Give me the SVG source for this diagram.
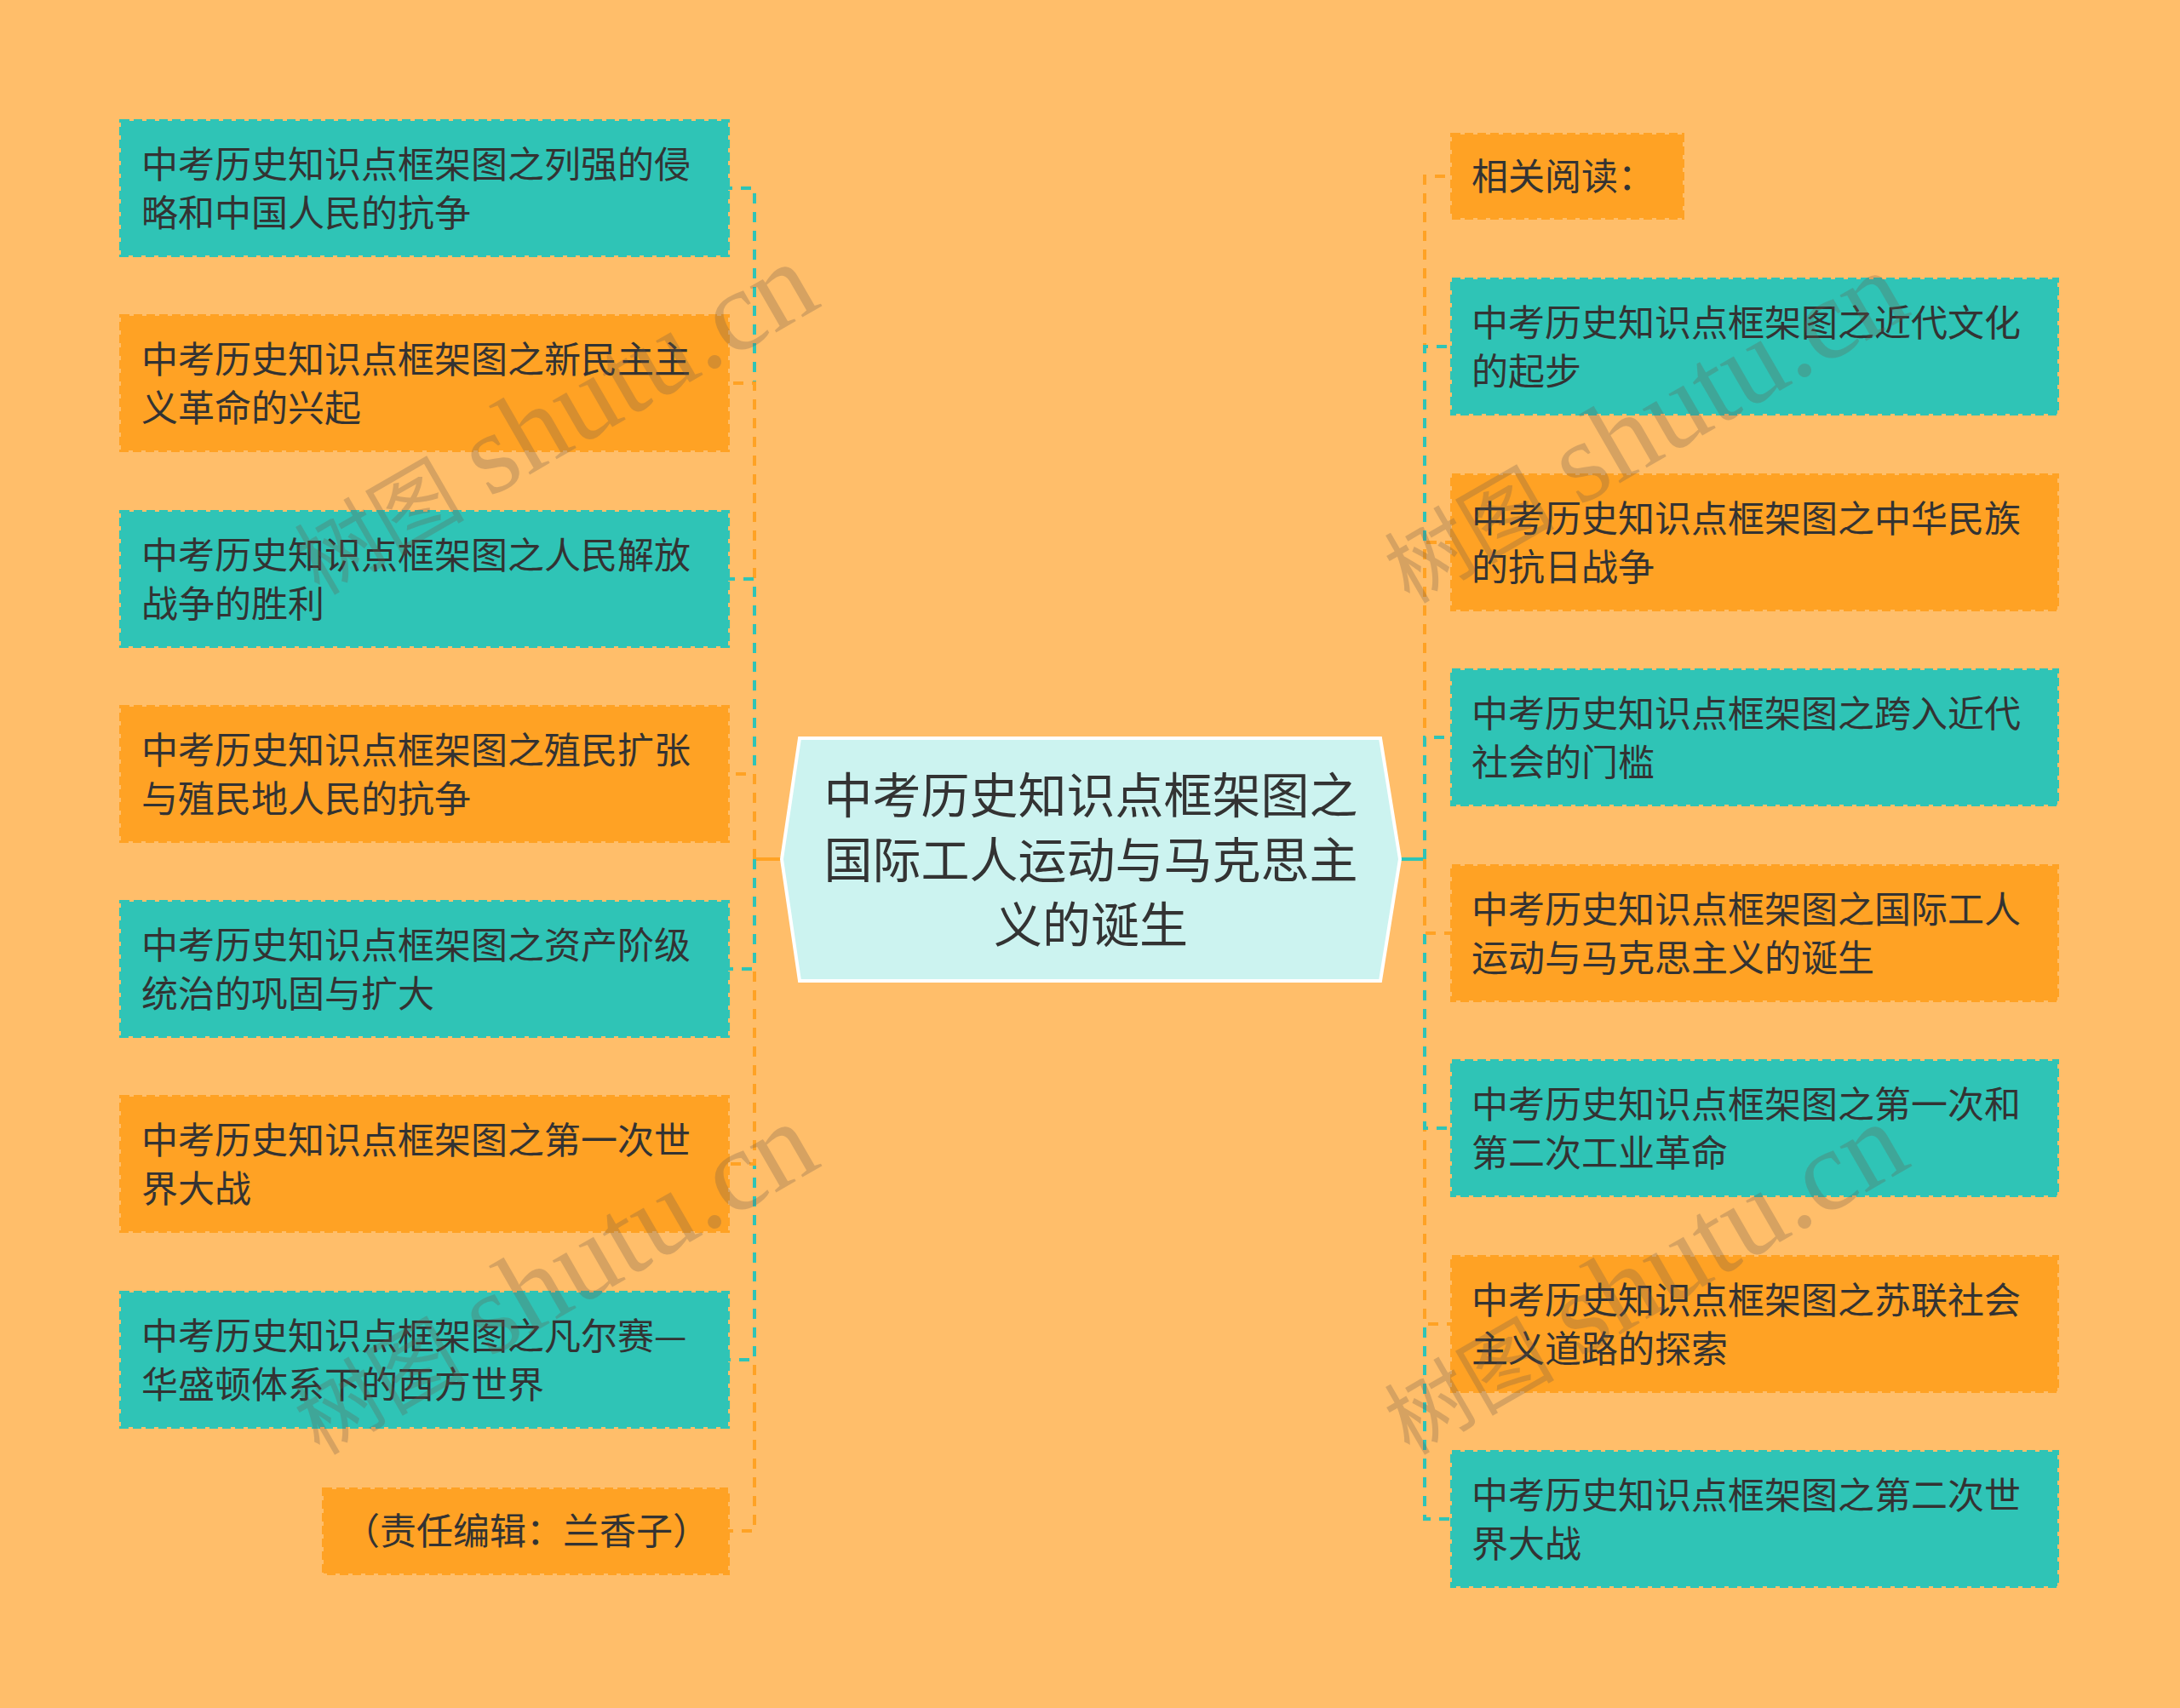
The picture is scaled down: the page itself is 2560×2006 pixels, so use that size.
<svg xmlns="http://www.w3.org/2000/svg" width="2560" height="2006" viewBox="0 0 2560 2006">
<style>
.bg{fill:#FFBE6A}
.teal{fill:#2FC4B6;stroke:#2FC4B6;stroke-width:4;stroke-dasharray:10 5}
.orange{fill:#FFA224;stroke:#FFA224;stroke-width:4;stroke-dasharray:10 5}
.t{font-family:"Noto Sans CJK SC","Noto Sans",sans-serif;font-size:43px;fill:#333333}
.ct{font-family:"Noto Sans CJK SC","Noto Sans",sans-serif;font-size:57px;fill:#333333;text-anchor:middle}
.cl{fill:none;stroke-width:4;stroke-dasharray:12 10}
.cT{stroke:#2FC4B6}
.cO{stroke:#FFA224}
.stub{fill:none;stroke-width:4}
.wm{font-family:"Liberation Serif","Noto Sans CJK SC",serif;fill:#6b5a4a;fill-opacity:0.28}
</style>
<rect class="bg" x="0" y="0" width="2560" height="2006"/>

<g id="connectors">
  <path class="stub" stroke="#FFA224" d="M918,1009 H886"/>
  <path class="cl cT" d="M886,1009 V221 H855"/>
  <path class="cl cO" d="M886,1009 V450 H855"/>
  <path class="cl cT" d="M886,1009 V680 H855"/>
  <path class="cl cO" d="M886,1009 V909 H855"/>
  <path class="cl cO" d="M886,1009 V1798 H855"/>
  <path class="cl cT" d="M886,1009 V1597 H855"/>
  <path class="cl cO" d="M886,1009 V1367 H855"/>
  <path class="cl cT" d="M886,1009 V1138 H855"/>
  <path class="stub" stroke="#2FC4B6" d="M1644,1009 H1673"/>
  <path class="cl cO" d="M1673,1009 V207 H1705"/>
  <path class="cl cT" d="M1673,1009 V407 H1705"/>
  <path class="cl cO" d="M1673,1009 V637 H1705"/>
  <path class="cl cT" d="M1673,1009 V866 H1705"/>
  <path class="cl cT" d="M1673,1009 V1784 H1705"/>
  <path class="cl cO" d="M1673,1009 V1555 H1705"/>
  <path class="cl cT" d="M1673,1009 V1325 H1705"/>
  <path class="cl cO" d="M1673,1009 V1096 H1705"/>
</g>

<g id="center">
  <polygon points="939,867 1621,867 1644,1009 1621,1152 939,1152 918,1009" fill="#CCF3F0" stroke="#FFFFFF" stroke-width="4"/>
  <text class="ct" x="1281" y="955">中考历史知识点框架图之</text>
  <text class="ct" x="1281" y="1031">国际工人运动与马克思主</text>
  <text class="ct" x="1281" y="1107">义的诞生</text>
</g>

<g id="L1"><rect class="teal" x="142" y="142" width="713" height="158"/><text class="t" x="166" y="209">中考历史知识点框架图之列强的侵</text><text class="t" x="166" y="266">略和中国人民的抗争</text></g>
<g id="L2"><rect class="orange" x="142" y="371" width="713" height="158"/><text class="t" x="166" y="438">中考历史知识点框架图之新民主主</text><text class="t" x="166" y="495">义革命的兴起</text></g>
<g id="L3"><rect class="teal" x="142" y="601" width="713" height="158"/><text class="t" x="166" y="668">中考历史知识点框架图之人民解放</text><text class="t" x="166" y="725">战争的胜利</text></g>
<g id="L4"><rect class="orange" x="142" y="830" width="713" height="158"/><text class="t" x="166" y="897">中考历史知识点框架图之殖民扩张</text><text class="t" x="166" y="954">与殖民地人民的抗争</text></g>
<g id="L5"><rect class="teal" x="142" y="1059" width="713" height="158"/><text class="t" x="166" y="1126">中考历史知识点框架图之资产阶级</text><text class="t" x="166" y="1183">统治的巩固与扩大</text></g>
<g id="L6"><rect class="orange" x="142" y="1288" width="713" height="158"/><text class="t" x="166" y="1355">中考历史知识点框架图之第一次世</text><text class="t" x="166" y="1412">界大战</text></g>
<g id="L7"><rect class="teal" x="142" y="1518" width="713" height="158"/><text class="t" x="166" y="1585">中考历史知识点框架图之凡尔赛—</text><text class="t" x="166" y="1642">华盛顿体系下的西方世界</text></g>
<g id="L8"><rect class="orange" x="380" y="1749" width="475" height="99"/><text class="t" x="403" y="1814">（责任编辑：兰香子）</text></g>

<g id="R0"><rect class="orange" x="1705" y="158" width="271" height="98"/><text class="t" x="1728" y="223">相关阅读：</text></g>
<g id="R1"><rect class="teal" x="1705" y="328" width="711" height="158"/><text class="t" x="1728" y="395">中考历史知识点框架图之近代文化</text><text class="t" x="1728" y="452">的起步</text></g>
<g id="R2"><rect class="orange" x="1705" y="558" width="711" height="158"/><text class="t" x="1728" y="625">中考历史知识点框架图之中华民族</text><text class="t" x="1728" y="682">的抗日战争</text></g>
<g id="R3"><rect class="teal" x="1705" y="787" width="711" height="158"/><text class="t" x="1728" y="854">中考历史知识点框架图之跨入近代</text><text class="t" x="1728" y="911">社会的门槛</text></g>
<g id="R4"><rect class="orange" x="1705" y="1017" width="711" height="158"/><text class="t" x="1728" y="1084">中考历史知识点框架图之国际工人</text><text class="t" x="1728" y="1141">运动与马克思主义的诞生</text></g>
<g id="R5"><rect class="teal" x="1705" y="1246" width="711" height="158"/><text class="t" x="1728" y="1313">中考历史知识点框架图之第一次和</text><text class="t" x="1728" y="1370">第二次工业革命</text></g>
<g id="R6"><rect class="orange" x="1705" y="1476" width="711" height="158"/><text class="t" x="1728" y="1543">中考历史知识点框架图之苏联社会</text><text class="t" x="1728" y="1600">主义道路的探索</text></g>
<g id="R7"><rect class="teal" x="1705" y="1705" width="711" height="158"/><text class="t" x="1728" y="1772">中考历史知识点框架图之第二次世</text><text class="t" x="1728" y="1829">界大战</text></g>

<g id="watermarks">
  <text class="wm" transform="translate(375,700) rotate(-30)"><tspan font-size="100">树图</tspan><tspan font-size="135" dx="30">shutu.cn</tspan></text>
  <text class="wm" transform="translate(375,1710) rotate(-30)"><tspan font-size="100">树图</tspan><tspan font-size="135" dx="30">shutu.cn</tspan></text>
  <text class="wm" transform="translate(1655,710) rotate(-30)"><tspan font-size="100">树图</tspan><tspan font-size="135" dx="30">shutu.cn</tspan></text>
  <text class="wm" transform="translate(1655,1710) rotate(-30)"><tspan font-size="100">树图</tspan><tspan font-size="135" dx="30">shutu.cn</tspan></text>
</g>
</svg>
